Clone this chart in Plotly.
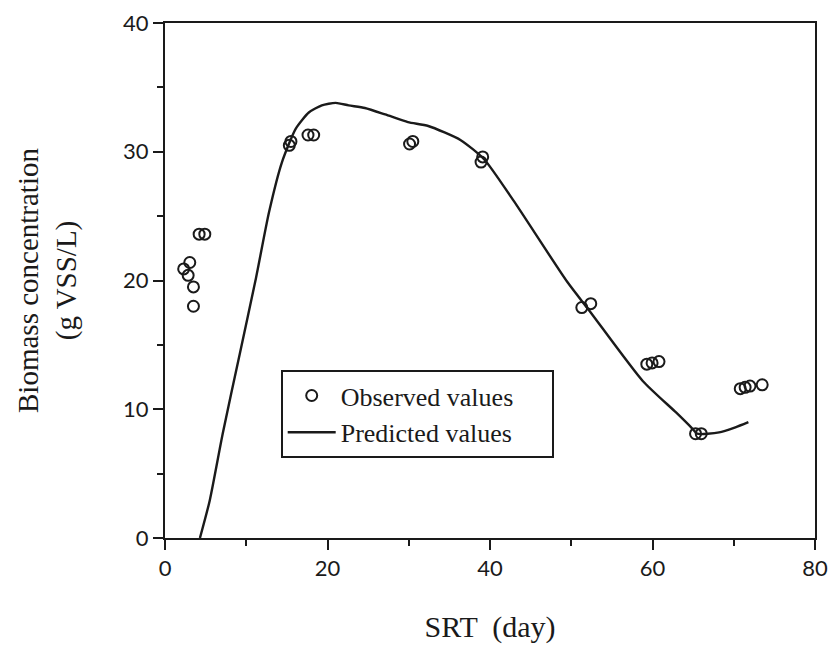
import plotly.graph_objects as go

# Observed values
obs_x = [2.3, 2.85, 3.05, 3.5, 3.5, 4.2, 4.9,
         15.3, 15.5, 17.6, 18.3,
         30.1, 30.5, 38.9, 39.1,
         51.3, 52.4, 59.3, 59.95, 60.8,
         65.3, 66.0, 70.8, 71.4, 72.0, 73.5]
obs_y = [20.9, 20.4, 21.4, 19.5, 18.0, 23.6, 23.6,
         30.5, 30.8, 31.3, 31.3,
         30.6, 30.8, 29.2, 29.6,
         17.9, 18.2, 13.5, 13.6, 13.7,
         8.1, 8.1, 11.6, 11.7, 11.8, 11.9]

# Predicted values
pred_x = [4.3, 5.5, 7.1, 9.2, 11.2, 12.8, 14.4, 16.1, 17.7, 19.3, 21.0, 22.6,
          24.6, 27.1, 29.9, 32.4, 36.4, 39.3, 42.9, 49.5, 52.3, 58.8, 62.9,
          64.9, 65.5, 68.2, 70.2, 71.8]
pred_y = [0.0, 2.9, 8.1, 14.3, 20.2, 25.3, 29.2, 31.8, 33.05, 33.6, 33.8, 33.6,
          33.4, 32.9, 32.3, 32.0, 30.9, 29.4, 26.2, 19.9, 17.6, 12.2, 9.75,
          8.5, 8.1, 8.2, 8.6, 9.0]

x_ticks = [0, 20, 40, 60, 80]
y_ticks = [0, 10, 20, 30, 40]

ink = "#1a1a1a"
serif = "Liberation Serif, Times New Roman, serif"
sans = "Lato, Open Sans, sans-serif"
pad = "\u00a0\u00a0\u00a0\u00a0\u00a0"

fig = go.Figure()
fig.add_trace(go.Scatter(
    x=obs_x, y=obs_y, mode="markers", name="Observed values" + pad,
    legendgroup="a",
    marker=dict(symbol="circle-open", size=11, color=ink, line=dict(width=2, color=ink)),
))
fig.add_trace(go.Scatter(
    x=pred_x, y=pred_y, mode="lines", name="Predicted values" + pad,
    legendgroup="b",
    line=dict(color=ink, width=2.4, shape="spline", smoothing=0.6),
))

fig.update_layout(
    width=829, height=636,
    margin=dict(l=157, r=22, t=15, b=106),
    paper_bgcolor="white", plot_bgcolor="white",
    showlegend=True,
    legend=dict(
        x=0.178, y=0.326, xanchor="left", yanchor="top",
        bordercolor=ink, borderwidth=2, bgcolor="white",
        font=dict(family=serif, size=26, color=ink),
        tracegroupgap=0, itemwidth=48,
    ),
    font=dict(family=serif, color=ink),
)
fig.update_xaxes(
    range=[0, 80], tickvals=x_ticks, ticktext=[str(v) for v in x_ticks],
    showgrid=False, zeroline=False, automargin=False,
    showline=True, linecolor=ink, linewidth=2, mirror=True,
    ticks="outside", ticklen=10, tickwidth=2, tickcolor=ink,
    minor=dict(dtick=10, ticks="outside", ticklen=6, tickwidth=2, tickcolor=ink),
    tickfont=dict(family=sans, size=22, color=ink),
    ticklabeloverflow="allow",
    title=dict(text="SRT  (day)", font=dict(family=serif, size=30, color=ink), standoff=44),
)
fig.update_yaxes(
    range=[0, 40], tickvals=y_ticks, ticktext=[str(v) for v in y_ticks],
    showgrid=False, zeroline=False, automargin=False,
    showline=True, linecolor=ink, linewidth=2, mirror=True,
    ticks="outside", ticklen=10, tickwidth=2, tickcolor=ink,
    minor=dict(dtick=5, ticks="outside", ticklen=6, tickwidth=2, tickcolor=ink),
    tickfont=dict(family=sans, size=22, color=ink),
    ticklabeloverflow="allow",
    title=dict(text="Biomass concentration<br>(g VSS/L)",
               font=dict(family=serif, size=29, color=ink), standoff=38),
)

fig.write_html("out.html")
